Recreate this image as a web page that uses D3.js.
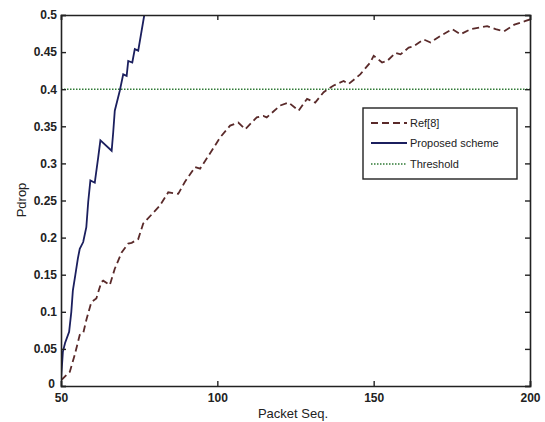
<!DOCTYPE html>
<html>
<head>
<meta charset="utf-8">
<script src="https://cdn.jsdelivr.net/npm/d3@7"></script>
<style>
body { margin: 0; background: #fff; }
svg { display: block; }
</style>
</head>
<body>
<svg id="chart" width="545" height="422"></svg>
<script>
// values
let xTicks = [50, 100, 150, 200];
let yTicks = [0, 0.05, 0.1, 0.15, 0.2, 0.25, 0.3, 0.35, 0.4, 0.45, 0.5];

let proposedX = [50, 50.6, 51.3, 52.6, 53.3, 53.8, 54.6, 55.4, 56, 57.1, 58.1, 58.7, 59.4, 60.8, 61.9, 62.6, 66.2, 66.7, 67.2, 68.8, 69.9, 71.0, 71.5, 72.8, 73.6, 74.7, 76.6, 77.5];
let proposedY = [0.008, 0.046, 0.058, 0.073, 0.1, 0.129, 0.15, 0.172, 0.185, 0.194, 0.214, 0.248, 0.277, 0.274, 0.308, 0.331, 0.317, 0.342, 0.371, 0.398, 0.42, 0.418, 0.438, 0.436, 0.454, 0.452, 0.499, 0.52];

let refX = [50.1, 52.8, 54.4, 56, 57.1, 58.1, 59.7, 61.3, 62.9, 63.5, 65.6, 67.2, 69.4, 71.5, 72.6, 74.7, 76.3, 81.6, 84.3, 87.5, 89.6, 92.9, 94.5, 98.2, 100.9, 104.1, 106.7, 108.9, 112.6, 114.7, 115.8, 120.1, 122.8, 126, 128.7, 131.3, 134, 137.2, 140.4, 142, 145.7, 148.9, 150, 152.7, 154.3, 157, 158.6, 161.2, 162.8, 166, 168.2, 171.4, 175.1, 177.8, 181, 186.3, 189, 191.7, 195, 198.6, 200];
let refY = [0.008, 0.019, 0.042, 0.069, 0.071, 0.089, 0.113, 0.118, 0.14, 0.142, 0.136, 0.158, 0.18, 0.192, 0.193, 0.198, 0.219, 0.243, 0.261, 0.259, 0.275, 0.295, 0.293, 0.317, 0.335, 0.351, 0.355, 0.346, 0.362, 0.364, 0.362, 0.378, 0.382, 0.371, 0.387, 0.382, 0.396, 0.405, 0.411, 0.407, 0.42, 0.436, 0.445, 0.436, 0.438, 0.449, 0.447, 0.456, 0.458, 0.467, 0.463, 0.472, 0.481, 0.474, 0.481, 0.485, 0.481, 0.478, 0.487, 0.492, 0.494];

let threshold = 0.4;
let legendNames = ["Ref[8]", "Proposed scheme", "Threshold"];

const svg = d3.select("#chart");
const mLeft = 61, mRight = 530, mTop = 15, mBottom = 386;

const x = d3.scaleLinear().domain([50, 200]).range([mLeft, mRight]);
const y = d3.scaleLinear().domain([0, 0.5]).range([mBottom, mTop]);

svg.append("defs").append("clipPath").attr("id", "clip")
    .append("rect").attr("x", mLeft).attr("y", mTop).attr("width", mRight - mLeft).attr("height", mBottom - mTop);

const plot = svg.append("g").attr("clip-path", "url(#clip)");

const line = d3.line().x(d => x(d[0])).y(d => y(d[1]));

// threshold
plot.append("path")
    .datum([[50, threshold], [200, threshold]])
    .attr("d", line)
    .attr("fill", "none")
    .attr("stroke", "#2f7a35")
    .attr("stroke-width", 1.6)
    .attr("stroke-dasharray", "1.5,1.5");

// Ref[8]
plot.append("path")
    .datum(refX.map((v, i) => [v, refY[i]]))
    .attr("d", line)
    .attr("fill", "none")
    .attr("stroke", "#5a2a2a")
    .attr("stroke-width", 1.8)
    .attr("stroke-dasharray", "7,4");

// proposed
plot.append("path")
    .datum(proposedX.map((v, i) => [v, proposedY[i]]))
    .attr("d", line)
    .attr("fill", "none")
    .attr("stroke", "#1b1f5e")
    .attr("stroke-width", 1.8);

// axes (box with inward ticks)
const axisFont = "bold 12px 'Liberation Sans', Arial, sans-serif";

const gB = svg.append("g").attr("transform", `translate(0,${mBottom})`)
    .call(d3.axisBottom(x).tickValues(xTicks).tickSize(-5).tickPadding(7).tickFormat(d3.format("d")));
const gT = svg.append("g").attr("transform", `translate(0,${mTop})`)
    .call(d3.axisTop(x).tickValues(xTicks).tickSize(-5).tickFormat(""));
const gL = svg.append("g").attr("transform", `translate(${mLeft},0)`)
    .call(d3.axisLeft(y).tickValues(yTicks).tickSize(-5).tickPadding(4).tickFormat(d => d3.format("")(+d.toFixed(2))));
const gR = svg.append("g").attr("transform", `translate(${mRight},0)`)
    .call(d3.axisRight(y).tickValues(yTicks).tickSize(-5).tickFormat(""));

[gB, gT, gL, gR].forEach(g => {
    g.select(".domain").attr("stroke", "#222").attr("stroke-width", 1.6);
    g.selectAll(".tick line").attr("stroke", "#222").attr("stroke-width", 1.4);
    g.selectAll("text").style("font", axisFont).attr("fill", "#222");
});
// the "0" label sits a little higher so it clears the "50" below it
gL.selectAll(".tick text").filter(d => d === 0).attr("dy", "0.1em").attr("x", -6);

// axis titles
svg.append("text")
    .attr("x", 293).attr("y", 418)
    .attr("text-anchor", "middle")
    .style("font", "13px 'Liberation Sans', Arial, sans-serif")
    .attr("fill", "#222")
    .text("Packet Seq.");

svg.append("text")
    .attr("transform", "translate(26,200) rotate(-90)")
    .attr("text-anchor", "middle")
    .style("font", "13px 'Liberation Sans', Arial, sans-serif")
    .attr("fill", "#222")
    .text("Pdrop");

// legend
const lg = svg.append("g");
lg.append("rect")
    .attr("x", 363).attr("y", 108).attr("width", 154).attr("height", 71)
    .attr("fill", "#fff").attr("stroke", "#222").attr("stroke-width", 1.4);

const styles = [
    { stroke: "#5a2a2a", dash: "7,4", width: 1.8 },
    { stroke: "#1b1f5e", dash: null, width: 1.8 },
    { stroke: "#2f7a35", dash: "1.5,1.5", width: 1.6 }
];
const rowY = [123, 143, 164];

legendNames.forEach((name, i) => {
    lg.append("line")
        .attr("x1", 371).attr("x2", 407)
        .attr("y1", rowY[i]).attr("y2", rowY[i])
        .attr("stroke", styles[i].stroke)
        .attr("stroke-width", styles[i].width)
        .attr("stroke-dasharray", styles[i].dash);
    lg.append("text")
        .attr("x", 410).attr("y", rowY[i] + 4)
        .style("font", "11px 'Liberation Sans Narrow', 'Liberation Sans', Arial, sans-serif")
        .attr("fill", "#222")
        .text(name);
});
</script>
</body>
</html>
